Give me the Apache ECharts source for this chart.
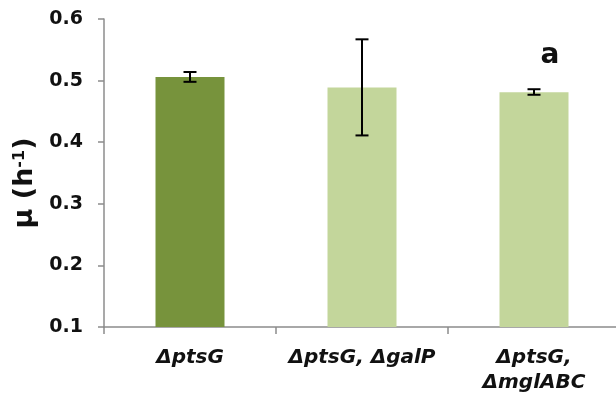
<!DOCTYPE html>
<html>
<head>
<meta charset="utf-8">
<script src="https://cdn.jsdelivr.net/npm/echarts@6/dist/echarts.min.js"></script>
<style>
  html, body { margin: 0; padding: 0; background: #fff; }
  #chart { width: 616px; height: 394px; }
</style>
</head>
<body>
<div id="chart"></div>
<script>
// Growth rate of the strains with standard deviation
var strains = ['ΔptsG', 'ΔptsG, ΔgalP', 'ΔptsG,\nΔmglABC'];
var growthRate = [0.506, 0.489, 0.481];
var errLow = [0.498, 0.411, 0.477];
var errHigh = [0.514, 0.567, 0.486];
var barColors = ['#77933C', '#C3D69B', '#C3D69B'];
var marks = ['', '', 'a'];
var yTicks = [0.1, 0.2, 0.3, 0.4, 0.5, 0.6];

var chart = echarts.init(document.getElementById('chart'));
var FONT = 'DejaVu Sans';

chart.setOption({
  animation: false,
  grid: { left: 104, right: -4, top: 19, bottom: 67, outerBoundsMode: 'none', containLabel: false },
  graphic: [{
    type: 'text',
    rotation: Math.PI / 2,
    x: 25, y: 183,
    style: {
      text: 'μ (h{sup|-1})',
      rich: {
        sup: { fontSize: 16, fontWeight: 'bold', fontFamily: FONT, fill: '#111', padding: [0, 0, 11, 0] }
      },
      font: 'bold 27px "DejaVu Sans"',
      fill: '#111',
      align: 'center', verticalAlign: 'middle'
    }
  }],
  xAxis: {
    type: 'category',
    data: strains,
    axisLine: { lineStyle: { color: '#8c8c8c', width: 1.5 } },
    axisTick: { show: true, interval: 0, length: 7, lineStyle: { color: '#8c8c8c', width: 1.5 } },
    axisLabel: {
      interval: 0, hideOverlap: false,
      color: '#111', fontFamily: FONT, fontWeight: 'bold', fontStyle: 'italic',
      fontSize: 20, lineHeight: 25, margin: 18
    }
  },
  yAxis: {
    type: 'value',
    min: yTicks[0], max: yTicks[yTicks.length - 1], interval: 0.1,
    splitLine: { show: false },
    axisLine: { show: true, lineStyle: { color: '#8c8c8c', width: 1.5 } },
    axisTick: { show: true, length: 6, lineStyle: { color: '#8c8c8c', width: 1.5 } },
    axisLabel: {
      color: '#111', fontFamily: FONT, fontWeight: 'bold', fontSize: 19, margin: 21,
      formatter: function (v) { return v.toFixed(1); }
    }
  },
  series: [
    {
      type: 'bar',
      barWidth: 69,
      data: growthRate.map(function (v, i) {
        return { value: v, itemStyle: { color: barColors[i] } };
      })
    },
    {
      type: 'custom',
      data: growthRate.map(function (v, i) { return [i, errLow[i], errHigh[i]]; }),
      renderItem: function (params, api) {
        var i = api.value(0);
        var lo = api.coord([i, api.value(1)]);
        var hi = api.coord([i, api.value(2)]);
        var x = lo[0], half = 6.5;
        var style = { stroke: '#000', lineWidth: 2 };
        var children = [
          { type: 'line', shape: { x1: x, y1: lo[1], x2: x, y2: hi[1] }, style: style },
          { type: 'line', shape: { x1: x - half, y1: lo[1], x2: x + half, y2: lo[1] }, style: style },
          { type: 'line', shape: { x1: x - half, y1: hi[1], x2: x + half, y2: hi[1] }, style: style }
        ];
        if (marks[params.dataIndex]) {
          children.push({
            type: 'text',
            style: {
              text: marks[params.dataIndex], x: x + 16, y: hi[1] - 34,
              align: 'center', verticalAlign: 'middle',
              fill: '#111', font: 'bold 28px "DejaVu Sans"'
            }
          });
        }
        return { type: 'group', children: children };
      },
      z: 3
    }
  ]
});
</script>
</body>
</html>
